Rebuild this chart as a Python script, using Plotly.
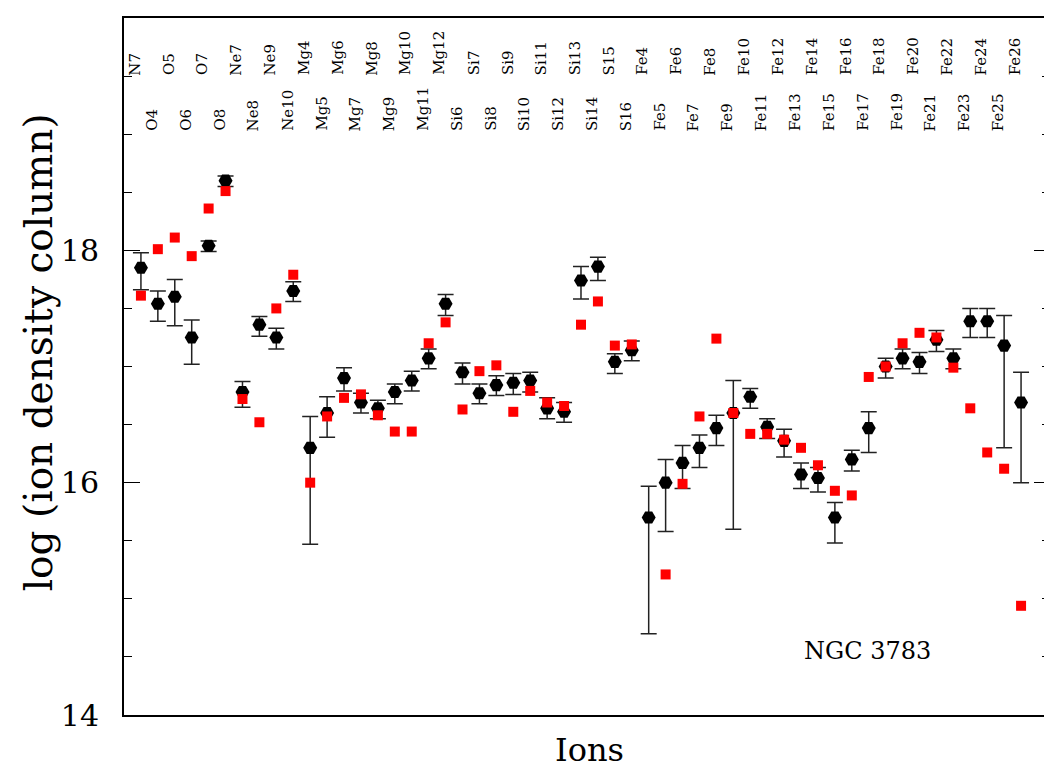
import plotly.graph_objects as go

ions = ["N7", "O4", "O5", "O6", "O7", "O8", "Ne7", "Ne8", "Ne9", "Ne10",
        "Mg4", "Mg5", "Mg6", "Mg7", "Mg8", "Mg9", "Mg10", "Mg11", "Mg12",
        "Si6", "Si7", "Si8", "Si9", "Si10", "Si11", "Si12", "Si13", "Si14", "S15", "S16",
        "Fe4", "Fe5", "Fe6", "Fe7", "Fe8", "Fe9", "Fe10", "Fe11", "Fe12", "Fe13", "Fe14",
        "Fe15", "Fe16", "Fe17", "Fe18", "Fe19", "Fe20", "Fe21", "Fe22", "Fe23", "Fe24",
        "Fe25", "Fe26"]

obs = [17.85, 17.54, 17.60, 17.25, 18.04, 18.60, 16.78, 17.36, 17.25, 17.65,
       16.30, 16.60, 16.90, 16.69, 16.64, 16.78, 16.88, 17.07, 17.54,
       16.95, 16.77, 16.84, 16.86, 16.88, 16.64, 16.61, 17.74, 17.86, 17.04, 17.14,
       15.70, 16.00, 16.17, 16.30, 16.47, 16.60, 16.74, 16.48, 16.36, 16.07, 16.04,
       15.70, 16.20, 16.47, 17.00, 17.07, 17.04, 17.23, 17.07, 17.39, 17.39,
       17.18, 16.69]

obs_upper = [17.98, 17.65, 17.75, 17.40, 18.08, 18.64, 16.87, 17.43, 17.33, 17.73,
             16.57, 16.74, 16.99, 16.77, 16.71, 16.85, 16.96, 17.15, 17.62,
             17.03, 16.85, 16.92, 16.94, 16.95, 16.73, 16.69, 17.86, 17.94, 17.11, 17.22,
             15.97, 16.20, 16.32, 16.41, 16.58, 16.88, 16.81, 16.55, 16.46, 16.17, 16.13,
             15.83, 16.28, 16.61, 17.07, 17.15, 17.12, 17.31, 17.15, 17.50, 17.50,
             17.44, 16.95]

obs_lower = [17.66, 17.39, 17.35, 17.02, 17.99, 18.55, 16.65, 17.26, 17.15, 17.56,
             15.47, 16.39, 16.79, 16.60, 16.55, 16.68, 16.79, 16.98, 17.44,
             16.85, 16.68, 16.75, 16.76, 16.78, 16.55, 16.52, 17.58, 17.74, 16.94, 17.05,
             14.70, 15.58, 15.95, 16.13, 16.32, 15.60, 16.64, 16.38, 16.22, 15.95, 15.92,
             15.48, 16.10, 16.26, 16.90, 16.98, 16.94, 17.13, 16.98, 17.25, 17.25,
             16.30, 16.00]

model = [17.61, 18.01, 18.11, 17.95, 18.36, 18.51, 16.72, 16.52, 17.50, 17.79,
         16.00, 16.57, 16.73, 16.76, 16.58, 16.44, 16.44, 17.20, 17.38,
         16.63, 16.96, 17.01, 16.61, 16.79, 16.69, 16.66, 17.36, 17.56, 17.18, 17.19,
         None, 15.21, 15.99, 16.57, 17.24, 16.60, 16.42, 16.42, 16.37, 16.30, 16.15,
         15.93, 15.89, 16.91, 17.00, 17.20, 17.29, 17.25, 16.99, 16.64, 16.26,
         16.12, 14.94]

y_ticks = [14, 16, 18, 20]

x = list(range(1, len(ions) + 1))
err_plus = [u - v for u, v in zip(obs_upper, obs)]
err_minus = [v - l for v, l in zip(obs, obs_lower)]

fig = go.Figure()
fig.add_trace(go.Scatter(
    x=x, y=obs, mode="markers",
    marker=dict(symbol="hexagon2", size=14, color="black"),
    error_y=dict(type="data", symmetric=False, array=err_plus, arrayminus=err_minus,
                 color="#222222", thickness=1.5, width=8),
    showlegend=False, hoverinfo="skip"))
fig.add_trace(go.Scatter(
    x=x, y=model, mode="markers",
    marker=dict(symbol="square", size=10, color="#ff0000"),
    showlegend=False, hoverinfo="skip"))

annotations = []
for i, name in enumerate(ions):
    top = (i % 2 == 0)
    annotations.append(dict(
        x=x[i], y=19.49 if top else 19.01, xref="x", yref="y",
        text=name, showarrow=False, textangle=-90,
        xanchor="center", yanchor="bottom", xshift=-6,
        font=dict(family="DejaVu Serif", size=15, color="black")))

annotations.append(dict(
    x=(935 - 141) / 16.96 + 1, y=14.55, xref="x", yref="y", text="NGC 3783",
    showarrow=False, xanchor="right", yanchor="middle",
    font=dict(family="DejaVu Serif", size=24, color="black")))

annotations.append(dict(
    x=-0.092, y=0.52, xref="paper", yref="paper", text="log (ion density column)",
    showarrow=False, textangle=-90, xanchor="center", yanchor="middle",
    font=dict(family="DejaVu Serif", size=39, color="black")))
annotations.append(dict(
    x=0.503, y=-0.050, xref="paper", yref="paper", text="Ions",
    showarrow=False, xanchor="center", yanchor="middle",
    font=dict(family="DejaVu Serif", size=32, color="black")))

fig.update_layout(
    width=1044, height=762,
    margin=dict(l=116, r=0, t=10, b=55),
    paper_bgcolor="white", plot_bgcolor="white",
    annotations=annotations,
    xaxis=dict(range=[0, 54.71], showgrid=False, zeroline=False,
               showticklabels=False, ticks="", showline=True, linecolor="black",
               linewidth=2, mirror=True),
    yaxis=dict(range=[14, 20], showgrid=False, zeroline=False,
               tickvals=y_ticks, ticks="inside", ticklen=16, tickwidth=1.2,
               tickcolor="black", showline=True, linecolor="black", linewidth=2,
               mirror="ticks", ticklabelstandoff=17,
               tickfont=dict(family="DejaVu Serif", size=30, color="black"),
               minor=dict(dtick=0.5, ticks="inside", ticklen=8, tickwidth=1.2,
                          tickcolor="black", showgrid=False)),
)

fig.write_html("out.html")
